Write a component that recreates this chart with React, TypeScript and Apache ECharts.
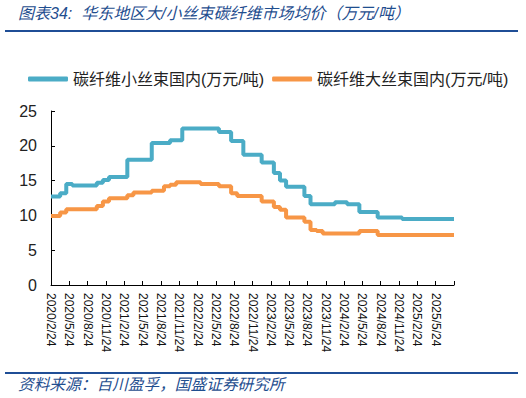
import React, { useEffect, useRef } from "react";
import * as echarts from "echarts";

const categories = [
  "2020/2/24", "2020/3/24", "2020/4/24", "2020/5/24", "2020/6/24", "2020/7/24", "2020/8/24", "2020/9/24", "2020/10/24", "2020/11/24", "2020/12/24",
  "2021/1/24", "2021/2/24", "2021/3/24", "2021/4/24", "2021/5/24", "2021/6/24", "2021/7/24", "2021/8/24", "2021/9/24", "2021/10/24", "2021/11/24", "2021/12/24",
  "2022/1/24", "2022/2/24", "2022/3/24", "2022/4/24", "2022/5/24", "2022/6/24", "2022/7/24", "2022/8/24", "2022/9/24", "2022/10/24", "2022/11/24", "2022/12/24",
  "2023/1/24", "2023/2/24", "2023/3/24", "2023/4/24", "2023/5/24", "2023/6/24", "2023/7/24", "2023/8/24", "2023/9/24", "2023/10/24", "2023/11/24", "2023/12/24",
  "2024/1/24", "2024/2/24", "2024/3/24", "2024/4/24", "2024/5/24", "2024/6/24", "2024/7/24", "2024/8/24", "2024/9/24", "2024/10/24", "2024/11/24", "2024/12/24",
  "2025/1/24", "2025/2/24", "2025/3/24", "2025/4/24", "2025/5/24", "2025/6/24", "2025/7/24", "2025/8/24",
];

const smallTow = [
  12.7, 12.7, 13.2, 14.5, 14.3, 14.3, 14.3, 14.3, 14.7, 15.1, 15.5,
  15.5, 15.5, 18.0, 18.0, 18.0, 18.0, 20.4, 20.4, 20.4, 20.8, 20.8, 22.5,
  22.5, 22.5, 22.5, 22.5, 22.5, 22.0, 22.0, 20.7, 20.7, 18.7, 18.7, 18.7,
  17.6, 17.6, 16.1, 15.0, 14.1, 14.1, 14.1, 12.8, 11.6, 11.6, 11.6, 11.6,
  11.9, 11.9, 11.6, 11.6, 10.5, 10.5, 10.5, 9.7, 9.7, 9.7, 9.7, 9.5,
  9.5, 9.5, 9.5, 9.5, 9.5, 9.5, 9.5, 9.5,
];

const largeTow = [
  9.9, 9.9, 10.4, 10.9, 10.9, 10.9, 10.9, 10.9, 11.35, 12.0, 12.45,
  12.45, 12.45, 12.9, 13.3, 13.3, 13.3, 13.55, 13.55, 14.2, 14.4, 14.75, 14.75,
  14.75, 14.75, 14.5, 14.5, 14.5, 14.2, 14.2, 13.2, 12.8, 12.8, 12.8, 12.8,
  12.0, 12.0, 11.2, 10.8, 9.7, 9.7, 9.7, 9.1, 7.9, 7.75, 7.4, 7.4,
  7.4, 7.4, 7.4, 7.4, 7.75, 7.75, 7.75, 7.2, 7.2, 7.2, 7.2, 7.2,
  7.2, 7.2, 7.2, 7.2, 7.2, 7.2, 7.2, 7.2,
];

const seriesNames = ["碳纤维小丝束国内(万元/吨)", "碳纤维大丝束国内(万元/吨)"];
const titleText = "图表34:  华东地区大/小丝束碳纤维市场均价（万元/吨）";
const sourceText = "资料来源：百川盈孚，国盛证券研究所";

export default function App() {
  const ref = useRef<HTMLDivElement>(null);
  useEffect(() => {
    if (!ref.current) return;
    const chart = echarts.init(ref.current, null, { renderer: "svg" });
    const last = categories.length - 1;
    chart.setOption({
      animation: false,
      backgroundColor: "#fff",
      textStyle: { fontFamily: "'Liberation Sans', 'Noto Sans CJK SC', sans-serif" },
      graphic: [
        {
          type: "text",
          left: 18,
          top: 5,
          style: {
            text: titleText,
            fill: "#1F4E8F",
            font: "italic 16px 'Liberation Sans', 'Noto Sans CJK SC', sans-serif",
          },
        },
        { type: "rect", shape: { x: 5, y: 30, width: 513, height: 2 }, style: { fill: "#1F4E96" } },
        { type: "rect", shape: { x: 5, y: 372, width: 513, height: 2 }, style: { fill: "#1F4E96" } },
        {
          type: "text",
          left: 18,
          top: 377,
          style: {
            text: sourceText,
            fill: "#1F4E8F",
            font: "italic 15.7px 'Liberation Sans', 'Noto Sans CJK SC', sans-serif",
          },
        },
      ],
      legend: {
        left: 23,
        top: 66,
        itemWidth: 40,
        itemHeight: 5,
        itemGap: 8,
        icon: "roundRect",
        textStyle: { fontSize: 16, color: "#222" },
        data: seriesNames,
      },
      grid: { left: 51, right: 72, top: 111, bottom: 113, containLabel: false },
      xAxis: {
        type: "category",
        boundaryGap: false,
        data: categories,
        axisLine: { lineStyle: { color: "#000", width: 1 } },
        axisTick: {
          inside: true,
          length: 4,
          lineStyle: { color: "#000" },
          interval: (i: number) => i % 3 === 0,
        },
        axisLabel: {
          rotate: -90,
          fontSize: 12,
          color: "#111",
          margin: 8,
          interval: (i: number) => i % 3 === 0 && i !== last,
        },
        splitLine: { show: false },
      },
      yAxis: {
        type: "value",
        min: 0,
        max: 25,
        interval: 5,
        axisLine: { show: true, lineStyle: { color: "#000", width: 1 } },
        axisTick: { show: true, inside: true, length: 4, lineStyle: { color: "#000" } },
        axisLabel: { fontSize: 16, color: "#222", margin: 14 },
        splitLine: { show: false },
      },
      series: [
        {
          name: seriesNames[0],
          type: "line",
          data: smallTow,
          step: "middle",
          showSymbol: false,
          lineStyle: { color: "#4BACC6", width: 4 },
          itemStyle: { color: "#4BACC6" },
        },
        {
          name: seriesNames[1],
          type: "line",
          data: largeTow,
          step: "middle",
          showSymbol: false,
          lineStyle: { color: "#F79646", width: 4 },
          itemStyle: { color: "#F79646" },
        },
      ],
    });
    return () => chart.dispose();
  }, []);
  return (
    <div
      ref={ref}
      style={{ position: "fixed", left: 0, top: 0, width: 526, height: 398, background: "#fff" }}
    />
  );
}
